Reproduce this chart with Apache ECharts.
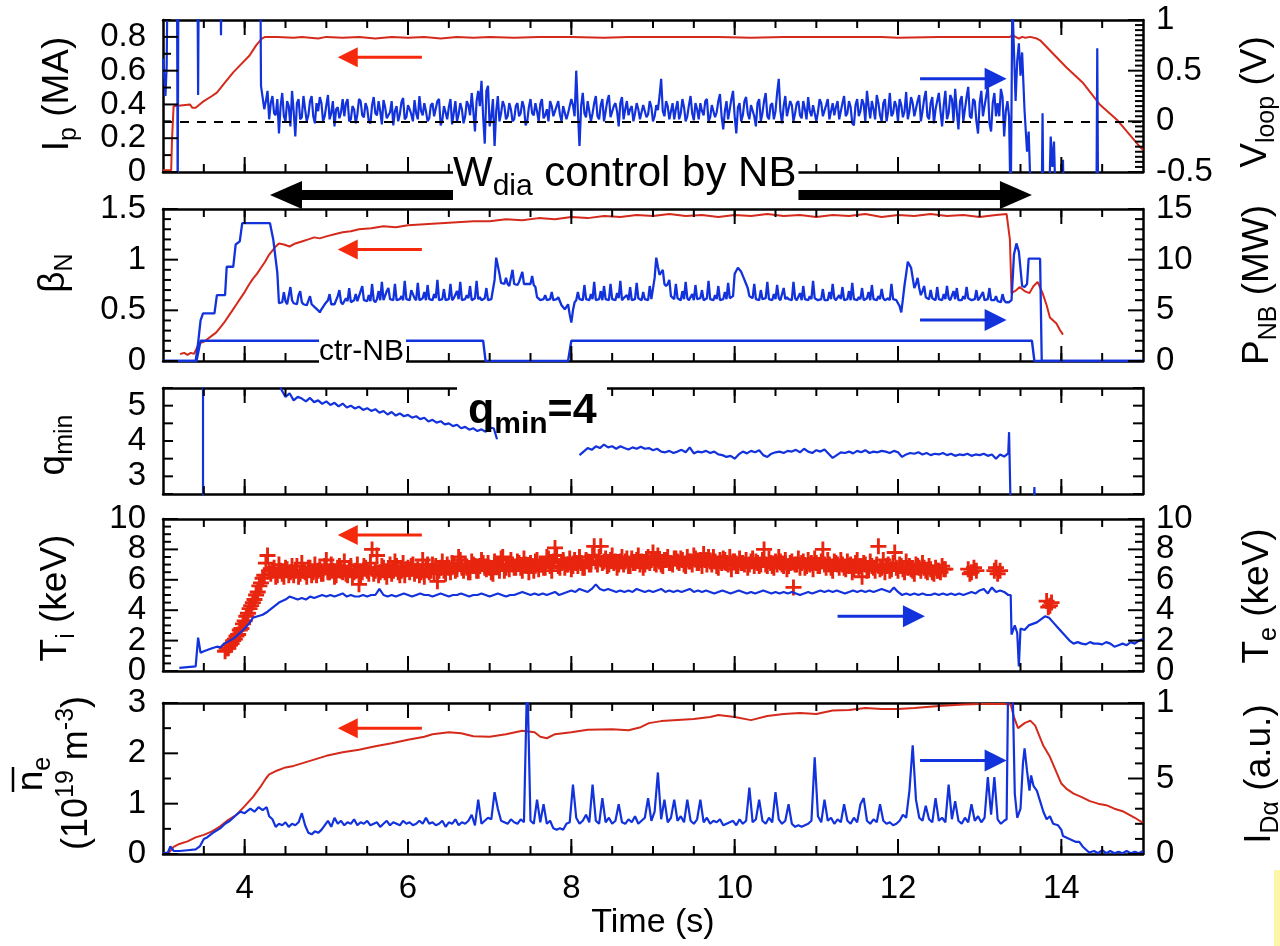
<!DOCTYPE html>
<html>
<head>
<meta charset="utf-8">
<script src="https://cdn.jsdelivr.net/npm/echarts@6/dist/echarts.min.js"></script>
<style>
  html, body { margin: 0; padding: 0; background: #ffffff; }
  #chart { width: 1280px; height: 946px; }
</style>
</head>
<body>
<div id="chart"></div>
<script>
// ---------------- time axis ----------------
const timeMin = 3, timeMax = 15;
const timeLabelTicks = [4, 6, 8, 10, 12, 14];
const timeHalfTicks = [3.5, 4, 4.5, 5, 5.5, 6, 6.5, 7, 7.5, 8, 8.5, 9, 9.5, 10, 10.5, 11, 11.5, 12, 12.5, 13, 13.5, 14, 14.5];

// ---------------- panel 1: plasma current (MA) and loop voltage (V) ----------------
const ipPoints = [[3.00,0.01],[3.10,0.01],[3.11,0.19],[3.13,0.39],[3.15,0.40],[3.33,0.40],[3.36,0.38],[3.40,0.38],[3.50,0.42],[3.60,0.45],[3.66,0.47],[3.76,0.53],[3.86,0.59],[3.96,0.64],[4.06,0.69],[4.14,0.75],[4.21,0.79],[4.25,0.80],
  [4.40,0.80],[4.60,0.795],[4.70,0.80],[4.90,0.79],[5.00,0.80],[5.20,0.795],[5.40,0.80],[5.60,0.79],[5.80,0.80],[6.00,0.795],[6.20,0.80],[6.40,0.79],[6.60,0.80],[6.80,0.795],[7.00,0.80],[7.30,0.795],[7.60,0.80],[8.00,0.80],[8.40,0.795],[8.70,0.80],[9.20,0.80],[9.80,0.80],[10.20,0.795],[10.60,0.80],[11.20,0.80],[11.80,0.80],[12.00,0.795],[12.50,0.80],[13.00,0.80],[13.37,0.80],
  [13.40,0.81],[13.44,0.80],[13.48,0.79],[13.52,0.80],[13.56,0.795],[13.62,0.80],[13.70,0.79],[13.74,0.78],[13.90,0.70],[14.06,0.62],[14.26,0.53],[14.47,0.40],[14.68,0.31],[14.96,0.15],[15.00,0.13]];

const vloopEarly = [[3.00,0.62],[3.015,0.45],[3.03,0.25],[3.045,0.55],[3.06,1.8],[3.17,1.8],[3.18,-0.8],[3.19,1.8],[3.42,1.8],[3.43,0.26],[3.44,1.8],[3.70,1.8],[3.71,0.85],[3.72,1.8],[4.19,1.8],[4.20,0.35]];
const vloopStart = 4.22, vloopStep = 0.04;
const vloopValues = [
  0.34,0.20,0.02,0.25,0.06,-0.12,0.28,0.00,0.15,0.30,-0.15,0.22,0.04,0.12,0.06,0.25,-0.02,0.10,0.18,0.05,0.26,0.08,-0.05,0.14,0.09,
  0.05,0.22,0.02,0.12,0.07,0.20,0.04,0.13,-0.02,0.24,0.06,0.10,0.21,0.03,0.09,-0.04,0.15,0.07,0.23,0.04,0.12,0.00,0.08,0.25,0.06,
  0.10,0.03,0.18,0.06,0.22,0.01,0.09,0.14,-0.03,0.20,0.07,0.12,0.05,0.16,0.28,-0.10,0.30,0.40,-0.22,0.35,0.05,-0.25,0.25,0.08,0.15,
  0.05,0.12,0.02,0.18,0.08,0.14,0.00,0.22,0.06,0.10,0.17,0.03,0.12,0.20,0.05,0.11,0.07,0.15,0.02,0.09,0.16,0.50,-0.25,0.28,0.04,
  0.20,0.08,0.25,0.02,0.22,0.10,0.26,0.05,0.18,-0.05,0.24,0.12,0.06,0.15,0.08,0.12,0.03,0.10,0.07,0.14,0.05,0.11,0.42,0.05,0.15,
  0.10,0.02,0.20,0.08,0.14,0.05,0.25,0.01,0.12,0.18,0.06,0.22,0.04,0.15,0.09,0.27,-0.08,0.20,0.12,0.30,-0.12,0.18,0.06,0.24,0.02,
  0.15,-0.05,0.22,0.08,0.28,0.02,0.18,0.10,0.42,-0.02,0.25,0.06,0.16,0.08,0.20,0.03,0.12,0.24,0.05,0.15,0.09,0.18,0.04,0.22,0.10,
  0.06,0.20,0.02,0.25,0.08,0.14,-0.04,0.22,0.10,0.17,0.30,0.03,0.12,0.26,0.06,0.18,0.00,0.28,0.08,0.15,0.22,0.04,0.29,0.10,0.18,
  0.05,0.26,0.10,0.30,0.02,0.24,0.12,0.28,-0.05,0.30,0.08,0.22,0.32,-0.08,0.25,0.12,0.34,0.03,0.20,-0.12,0.30,0.15,0.35,-0.10,0.28,
  0.18,0.32,-0.15,0.20];
// readings half-way between the samples above (t = 4.24 s onwards)
const vloopMidValues = [
  0.12,0.30,0.18,0.08,0.22,0.15,0.05,0.20,-0.05,0.10,0.18,0.02,0.25,0.00,0.20,0.05,0.18,0.24,0.00,0.16,0.02,0.20,0.12,0.03,0.22,
  0.18,0.00,0.15,-0.02,0.22,0.06,0.18,0.00,0.16,0.08,0.20,-0.03,0.14,0.06,0.20,0.10,0.00,0.19,0.02,0.16,0.07,0.21,0.02,0.10,0.18,
  0.00,0.16,0.05,0.20,-0.04,0.15,0.02,0.22,0.08,0.00,0.18,-0.02,0.20,0.06,0.10,0.20,0.15,0.05,0.30,-0.05,0.22,0.10,0.00,0.20,0.02,
  0.18,0.00,0.15,0.05,0.20,-0.04,0.14,0.08,0.18,0.00,0.22,0.06,0.00,0.15,0.10,0.20,0.00,0.16,0.08,0.22,0.05,0.10,0.15,0.08,0.20,
  0.00,0.18,0.05,0.16,0.00,0.20,0.04,0.15,0.10,0.18,0.02,0.20,0.12,0.00,0.18,0.02,0.16,0.04,0.20,0.00,0.16,0.25,0.10,0.20,0.02,
  0.18,0.12,0.02,0.22,0.00,0.16,0.08,0.18,0.02,0.10,0.20,0.00,0.16,0.04,0.20,0.05,0.10,0.02,0.22,0.05,0.14,0.00,0.20,0.08,0.16,
  0.05,0.18,0.00,0.20,0.05,0.16,0.02,0.28,0.10,0.15,0.05,0.20,0.00,0.18,0.06,0.20,0.02,0.10,0.16,0.00,0.22,0.05,0.16,0.02,0.18,
  0.14,0.02,0.18,0.05,0.20,-0.02,0.16,0.05,0.22,0.00,0.15,0.20,0.02,0.18,0.00,0.22,0.10,0.05,0.20,0.00,0.16,0.10,0.02,0.24,0.05,
  0.20,0.00,0.22,0.05,0.18,-0.02,0.20,0.10,0.16,0.02,0.26,0.00,0.10,0.20,0.00,0.24,0.05,0.22,0.00,0.18,0.05,0.25,-0.02,0.18,0.05,
  0.05,0.24,0.10];
const vloopLate = [[13.36,0.05],[13.38,-0.9],[13.39,-0.9],[13.40,1.2],[13.42,1.2],[13.44,0.2],[13.46,0.6],[13.48,0.77],[13.50,0.45],[13.52,0.68],[13.55,0.1],[13.58,-0.3],[13.60,-0.1],[13.62,-0.6],[13.70,-0.6],[13.72,-0.8],[13.76,-0.8],[13.77,0.08],[13.78,-0.8],[13.85,-0.8],[13.87,-0.15],[13.89,-0.45],[13.91,-0.2],[13.93,-0.8],[14.01,-0.8],[14.02,-0.38],[14.03,-0.8],[14.43,-0.8],[14.44,0.72],[14.45,-0.8],[15.00,-0.8]];

// ---------------- panel 2: normalised beta and NB power (MW) ----------------
const betaNPoints = [[3.21,0.07],[3.26,0.08],[3.30,0.06],[3.34,0.08],[3.38,0.07],[3.42,0.14],[3.46,0.18],[3.50,0.19],[3.55,0.22],[3.60,0.25],[3.65,0.28],[3.70,0.33],[3.75,0.38],[3.80,0.44],[3.85,0.50],[3.90,0.56],[3.95,0.62],[4.00,0.68],[4.05,0.75],[4.10,0.81],[4.15,0.86],[4.20,0.92],[4.25,0.98],[4.30,1.05],[4.35,1.10],[4.38,1.13],[4.42,1.16],[4.48,1.15],[4.55,1.13],[4.62,1.16],[4.70,1.18],[4.78,1.20],[4.85,1.22],[4.92,1.21],[5.00,1.23],[5.10,1.25],[5.20,1.27],[5.30,1.28],[5.40,1.30],[5.55,1.31],[5.70,1.33],[5.85,1.32],[6.00,1.34],[6.20,1.35],[6.40,1.36],[6.60,1.37],[6.80,1.38],[7.00,1.38],[7.20,1.40],[7.40,1.39],[7.60,1.41],[7.80,1.40],[8.00,1.42],[8.20,1.41],[8.40,1.43],[8.60,1.42],[8.80,1.44],[9.00,1.43],[9.20,1.45],[9.40,1.43],[9.60,1.44],[9.80,1.42],[10.00,1.44],[10.20,1.43],[10.40,1.45],[10.60,1.43],[10.80,1.44],[11.00,1.42],[11.20,1.44],[11.40,1.43],[11.60,1.45],[11.80,1.42],[12.00,1.44],[12.20,1.43],[12.40,1.45],[12.60,1.43],[12.80,1.44],[13.00,1.42],[13.20,1.44],[13.33,1.45],[13.37,1.20],[13.39,0.67],[13.45,0.70],[13.49,0.73],[13.55,0.69],[13.61,0.67],[13.66,0.74],[13.71,0.78],[13.77,0.67],[13.82,0.55],[13.86,0.43],[13.90,0.40],[13.94,0.37],[13.98,0.31],[14.02,0.26]];

const pnbEarly = [[3.00,0],[3.40,0],[3.43,1.8],[3.46,4.0],[3.49,4.7],[3.63,4.7],[3.66,6.5],[3.76,6.5],[3.78,9.3],[3.86,9.3],[3.89,11.5],[3.94,11.8],[3.97,13.6],[4.31,13.6],[4.35,12.0],[4.40,8.7],[4.42,5.7]];
const pnbStart = 4.44, pnbStep = 0.04;
const pnbValues = [
  5.7,6.8,5.6,7.3,5.7,5.6,6.9,5.6,5.5,6.4,5.5,5.2,4.8,5.0,5.5,6.6,5.5,5.7,7.0,5.6,6.2,7.2,5.7,6.6,5.8,
  7.4,5.9,6.5,7.6,5.8,6.9,7.8,6.0,7.2,6.1,7.6,5.9,6.4,7.9,6.0,7.0,6.2,7.7,5.9,6.8,7.5,6.0,6.6,8.0,6.1,
  7.1,6.0,7.6,6.2,6.9,7.8,6.0,6.5,7.4,6.1,7.9,6.3,6.1,7.2,6.0,6.2,10.2,8.6,7.6,8.2,7.4,9.0,7.6,7.8,8.8,
  7.5,7.7,8.4,7.3,6.2,6.0,6.5,6.1,6.8,6.0,6.3,5.5,5.1,5.6,3.8,5.8,6.8,6.0,7.5,6.1,6.6,7.8,6.0,6.9,7.4,
  6.1,7.6,6.0,6.7,7.9,6.2,6.5,7.3,6.0,7.7,6.2,6.8,6.0,7.4,6.1,10.2,8.5,9.0,7.4,8.0,6.3,7.6,6.1,6.9,7.8,
  6.0,6.6,7.5,6.1,7.0,6.0,7.9,6.2,6.5,7.4,6.0,6.8,7.7,6.2,8.6,9.2,8.8,8.0,7.2,6.3,7.6,6.1,7.0,6.0,7.8,
  6.2,6.6,7.5,6.0,7.2,6.3,6.1,7.8,6.0,6.7,7.4,6.1,6.4,7.9,6.2,6.0,7.1,6.1,6.8,7.6,6.0,6.5,7.3,6.1,6.9,
  7.7,6.0,6.3,7.2,6.1,6.8,7.5,6.0,6.4,7.1,6.0,6.2,7.6,6.1,6.0,4.8,7.5,9.8,9.2,7.2,8.2,6.5,7.4,6.2,7.0,
  6.1,7.3,6.0,6.6,7.4,6.0,6.9,7.2,6.0,6.4,7.3,6.1,6.0,7.0,6.2,6.8,6.0,7.2,6.1,6.4,5.9,6.6,5.8];
// readings half-way between the samples above (t = 4.46 s onwards)
const pnbMidValues = [
  5.8,5.9,5.6,6.0,5.7,6.5,5.8,5.7,5.6,5.6,5.3,5.0,5.1,5.6,6.0,5.6,5.6,6.4,5.8,5.7,5.9,5.8,6.0,5.9,6.9,
  6.0,5.9,5.9,6.0,6.1,6.0,6.0,6.9,6.1,6.0,6.0,6.1,6.0,6.1,6.0,6.6,6.0,6.0,6.2,6.0,6.1,6.0,6.2,6.0,6.1,
  6.0,6.1,6.0,6.2,6.1,6.0,6.1,6.2,6.0,6.2,6.1,6.0,6.2,6.0,6.1,8.0,9.4,7.7,7.6,7.6,7.4,7.6,7.5,7.7,7.6,
  7.6,7.6,7.5,6.3,6.0,6.1,6.0,6.1,6.0,6.1,5.9,5.3,5.2,4.6,5.0,6.0,6.1,6.0,6.1,6.0,6.1,6.0,6.1,6.0,6.1,
  6.0,6.1,6.0,6.2,6.0,6.1,6.0,6.0,6.1,6.2,6.0,6.1,6.0,6.1,8.2,9.3,8.6,7.6,7.6,6.4,6.1,6.2,6.0,6.1,6.2,
  6.1,6.0,6.1,6.2,6.0,6.2,6.1,6.0,6.1,6.0,6.1,6.1,6.2,6.4,8.9,9.0,8.4,7.6,6.4,6.2,6.1,6.0,6.1,6.2,6.1,
  6.0,6.1,6.2,6.0,6.1,6.1,6.0,6.2,6.1,6.0,6.1,6.0,6.1,6.2,6.0,6.1,6.0,6.0,6.1,6.2,6.0,6.1,6.0,6.1,6.0,
  6.1,6.0,6.1,6.0,6.2,6.0,6.1,6.0,6.1,6.2,6.0,6.0,6.1,6.0,5.4,6.1,8.6,9.5,8.2,7.6,7.2,6.9,6.3,6.1,6.2,
  6.0,6.1,6.0,6.1,6.2,6.0,6.1,6.0,6.0,6.1,6.2,6.0,6.1,6.0,6.1,6.0,6.1,6.0,6.0,5.9,5.8,6.0];
const pnbLate = [[13.36,5.8],[13.39,6.0],[13.42,10.5],[13.45,11.6],[13.48,10.8],[13.52,7.4],[13.55,7.3],[13.58,7.6],[13.60,10.1],[13.74,10.1],[13.76,0],[15.00,0]];

const ctrNbPoints = [[3.00,0],[3.41,0],[3.46,2.0],[6.92,2.0],[6.95,0],[7.96,0],[8.00,2.0],[13.64,2.0],[13.67,0],[15.00,0]];

// ---------------- panel 3: minimum safety factor ----------------
const qminSpike = [[3.49,2.0],[3.49,6.0]];
const qminHead = [[4.43,5.6]];
const qminFirstStart = 4.45, qminFirstStep = 0.05;
const qminFirstValues = [5.45,5.25,5.35,5.15,5.25,5.20,5.12,5.22,5.10,5.15,5.05,5.12,5.02,5.08,4.98,5.06,4.95,5.00,4.92,4.97,4.88,4.93,4.85,4.90,4.80,4.85,4.75,4.82,4.72,4.78,4.70,4.74,4.66,4.70,4.62,4.66,4.55,4.60,4.52,4.56,4.47,4.50,4.42,4.46,4.36,4.40,4.32,4.36,4.28,4.33,4.26,4.38,4.36];
const qminFirstEnd = [[7.09,4.05]];
const qminSecondStart = 8.10, qminSecondStep = 0.05;
const qminSecondValues = [3.60,3.70,3.80,3.75,3.85,3.80,3.90,3.82,3.85,3.78,3.85,3.80,3.76,3.82,3.78,3.84,3.78,3.80,3.74,3.78,3.70,3.68,3.72,3.66,3.70,3.75,3.68,3.82,3.65,3.70,3.68,3.72,3.66,3.70,3.62,3.60,3.55,3.58,3.50,3.62,3.70,3.65,3.72,3.68,3.74,3.60,3.55,3.64,3.68,3.70,3.66,3.72,3.70,3.75,3.68,3.78,3.70,3.66,3.74,3.70,3.76,3.64,3.52,3.60,3.68,3.66,3.70,3.65,3.72,3.68,3.74,3.66,3.70,3.68,3.72,3.70,3.66,3.72,3.68,3.55,3.62,3.66,3.64,3.68,3.62,3.66,3.60,3.64,3.62,3.66,3.60,3.64,3.58,3.62,3.60,3.64,3.58,3.62,3.60,3.64,3.58,3.62,3.50,3.62,3.56,3.65];
const qminTail = [[13.36,4.25],[13.38,2.0]];
const qminLateSpike = [[13.66,2.0],[13.67,2.7],[13.68,2.0]];

// ---------------- panel 4: ion (+) and electron temperatures (keV) ----------------
// two interleaved sets of ion-temperature points
const tiStartA = 3.76, tiStartB = 3.78, tiStep = 0.04;
const tiValuesA = [
  1.3,1.5,1.8,2.1,2.4,2.8,3.3,3.8,4.3,4.7,5.2,5.8,6.3,7.6,
  6.4,6.8,6.3,6.6,6.2,6.7,6.5,6.3,6.9,6.4,6.6,6.2,6.8,6.5,6.3,6.7,6.4,7.3,6.5,6.6,6.3,6.9,6.5,6.4,6.7,
  6.2,6.6,5.7,6.5,6.8,6.4,8.0,6.6,6.3,6.9,6.5,6.7,6.4,7.2,6.5,6.6,6.3,6.8,6.9,6.4,6.7,6.5,6.2,7.0,6.6,
  6.4,5.9,6.8,6.6,7.0,6.5,6.9,6.7,7.3,6.6,6.8,6.5,7.0,6.6,6.9,7.1,6.7,6.8,6.4,7.0,6.6,7.5,6.8,6.7,7.0,
  6.8,7.1,6.6,7.0,6.5,6.9,7.2,6.7,7.0,6.8,7.4,6.6,8.1,6.9,7.1,6.8,7.0,6.7,7.3,6.9,7.1,6.8,7.2,7.0,8.2,
  7.0,8.2,7.2,6.9,7.3,7.1,6.8,7.2,7.0,7.4,6.9,7.1,7.3,7.0,6.8,7.2,7.1,7.8,7.0,7.2,6.9,7.3,7.1,7.0,7.4,
  7.1,7.3,6.9,7.2,7.0,7.4,7.1,6.9,7.3,7.5,7.0,7.2,6.8,7.1,7.3,7.0,6.7,7.2,6.9,7.1,7.0,6.8,7.2,6.9,7.1,
  7.0,8.0,6.9,7.1,6.8,7.0,7.2,6.9,6.7,7.1,5.5,7.0,6.8,7.2,6.9,7.0,6.7,7.1,6.9,8.0,6.8,7.0,6.6,7.1,6.8,
  7.0,6.7,6.9,6.5,7.1,6.8,6.2,7.0,6.7,6.9,6.6,8.2,6.8,6.5,7.0,6.7,7.8,6.6,6.9,6.5,6.8,6.7,6.4,6.9,6.6,
  6.8,6.5,6.7,6.4,6.6,6.5,6.7];
const tiValuesB = [
  1.5,1.7,2.0,2.3,2.7,3.1,3.6,4.1,4.5,5.0,5.6,6.1,7.1,6.6,
  6.6,6.2,7.0,6.4,6.8,6.3,6.9,6.6,6.2,7.1,6.5,6.8,6.3,7.0,6.6,6.4,6.9,6.5,7.0,6.2,6.8,6.6,7.2,6.3,6.9,
  6.5,7.0,6.3,6.9,6.6,7.1,6.4,7.6,6.5,6.8,6.2,7.0,6.6,6.9,6.3,7.1,6.7,6.5,7.0,6.6,6.3,7.3,6.8,6.5,7.0,
  6.9,6.6,7.2,6.4,6.8,7.1,6.6,7.5,6.8,7.0,6.5,7.2,6.9,6.6,7.3,6.8,7.1,6.5,7.2,6.9,7.4,6.6,7.0,7.3,6.8,
  7.2,6.8,7.4,6.9,7.1,6.6,7.3,7.0,6.8,7.5,6.9,7.2,7.6,6.8,7.3,7.0,7.4,6.9,7.1,7.5,6.8,7.3,7.0,7.6,7.2,
  7.5,7.1,7.4,7.0,7.6,7.2,7.0,7.5,7.2,6.9,7.4,7.1,7.6,7.2,7.0,7.5,7.3,7.1,7.6,7.0,7.3,7.5,7.1,7.4,7.2,
  7.4,7.0,7.5,7.2,7.6,7.1,7.3,7.7,7.0,7.2,7.5,6.9,7.3,7.4,7.1,7.5,7.2,6.9,7.4,7.1,7.3,7.0,7.4,7.2,6.9,
  7.3,7.0,7.4,6.9,7.2,7.5,7.0,7.3,6.9,7.2,7.0,7.4,7.1,6.8,7.3,7.1,7.4,6.9,7.2,7.0,7.3,6.8,7.2,7.0,7.3,
  6.8,7.2,7.0,6.7,7.3,6.9,7.1,6.6,7.2,6.8,7.0,6.7,7.3,6.9,6.6,7.1,6.8,7.0,6.7,7.2,6.9,6.6,7.0,6.8,7.1,
  6.6,6.9,6.5,6.8,6.6,6.9,6.7];
const tiLate = [[12.86,6.7],[12.88,6.4],[12.90,6.5],[12.93,6.8],[12.96,6.6],[13.18,6.6],[13.20,6.8],[13.22,6.4],[13.25,6.6],[13.82,4.6],[13.84,4.2],[13.86,4.3],[13.88,4.5]];

const teEarly = [[3.20,0.2],[3.30,0.25],[3.40,0.3],[3.43,2.2],[3.46,1.2],[3.50,1.3],[3.55,1.4],[3.60,1.5],[3.66,1.6],[3.70,1.55],[3.75,1.8],[3.82,2.0],[3.88,2.2],[3.94,2.5],[4.00,2.8],[4.05,3.1],[4.10,3.5],[4.16,3.6],[4.22,3.7],[4.28,3.9],[4.35,4.2],[4.42,4.5],[4.50,4.7],[4.55,4.9]];
const teStart = 4.60, teStep = 0.05;
const teValues = [
  4.8,4.7,4.8,4.7,4.9,4.8,4.9,5.0,4.9,5.0,4.9,5.0,5.1,4.9,5.0,4.9,4.9,5.0,4.9,5.0,
  5.0,5.4,5.0,4.9,5.0,4.9,5.0,5.1,5.0,4.9,5.0,5.1,5.0,5.0,4.9,5.0,5.1,5.0,4.9,5.0,
  5.0,5.1,5.0,4.9,5.0,5.0,5.1,5.0,4.9,5.0,5.1,5.0,4.9,5.0,5.0,5.1,5.2,5.1,5.0,5.1,
  5.0,5.1,5.0,5.1,5.2,5.0,5.1,5.2,5.3,5.2,5.4,5.3,5.2,5.4,5.7,5.4,5.3,5.4,5.3,5.2,
  5.3,5.2,5.3,5.2,5.4,5.3,5.2,5.3,5.2,5.3,5.4,5.2,5.3,5.2,5.3,5.2,5.3,5.4,5.2,5.3,
  5.2,5.3,5.2,5.1,5.2,5.3,5.2,5.1,5.2,5.3,5.2,5.1,5.2,5.1,5.2,5.3,5.2,5.1,5.2,5.1,
  5.2,5.1,5.2,5.1,5.0,5.1,5.2,5.1,5.2,5.3,5.2,5.3,5.2,5.3,5.2,5.1,5.2,5.3,5.2,5.3,
  5.2,5.3,5.2,5.3,5.4,5.3,5.2,5.5,5.2,5.0,5.1,5.0,5.1,5.0,5.1,5.0,5.0,5.1,5.0,5.1,
  5.0,5.1,5.0,5.1,5.0,5.1,5.2,5.1,5.3,5.4,5.1,5.5,5.2,5.3,5.2,5.0];
const teLate = [[13.38,5.0],[13.39,2.4],[13.43,3.0],[13.46,2.5],[13.48,0.3],[13.50,2.8],[13.55,2.7],[13.60,3.0],[13.65,3.1],[13.70,3.2],[13.75,3.4],[13.80,3.6],[13.85,3.5],[13.90,3.2],[13.95,2.9],[14.00,2.6],[14.05,2.3],[14.10,2.0],[14.15,1.8],[14.20,1.9],[14.25,1.8],[14.30,1.75],[14.35,1.9],[14.40,1.8],[14.45,1.8],[14.50,1.75],[14.55,1.9],[14.60,1.8],[14.65,1.6],[14.70,1.7],[14.75,1.8],[14.80,1.7],[14.85,1.9],[14.90,1.8],[14.95,2.0],[15.00,2.1]];
const tempLabelsA = [0, 4, 8];
const tempLabelsB = [2, 6, 10];

// ---------------- panel 5: line-averaged density and D-alpha ----------------
const nePoints = [[3.06,0.0],[3.10,0.08],[3.13,0.14],[3.20,0.20],[3.30,0.25],[3.40,0.33],[3.50,0.38],[3.60,0.45],[3.70,0.55],[3.80,0.68],[3.90,0.78],[4.00,0.95],[4.10,1.13],[4.20,1.35],[4.26,1.50],[4.30,1.58],[4.40,1.66],[4.50,1.72],[4.60,1.75],[4.70,1.80],[4.80,1.85],[4.90,1.90],[5.00,1.95],[5.20,2.02],[5.40,2.07],[5.60,2.14],[5.80,2.20],[6.00,2.27],[6.20,2.33],[6.30,2.38],[6.50,2.42],[6.65,2.40],[6.80,2.34],[7.00,2.33],[7.20,2.38],[7.40,2.45],[7.55,2.42],[7.62,2.33],[7.70,2.30],[7.80,2.38],[8.00,2.42],[8.20,2.47],[8.50,2.48],[8.70,2.46],[8.85,2.52],[8.95,2.60],[9.10,2.64],[9.30,2.66],[9.50,2.68],[9.70,2.72],[9.80,2.76],[10.00,2.72],[10.20,2.66],[10.40,2.74],[10.60,2.78],[10.80,2.80],[11.00,2.78],[11.20,2.85],[11.40,2.86],[11.60,2.90],[11.80,2.88],[12.00,2.88],[12.20,2.90],[12.50,2.94],[12.80,2.97],[13.00,2.98],[13.30,2.98],[13.38,2.97],[13.42,2.72],[13.47,2.50],[13.55,2.60],[13.62,2.65],[13.68,2.55],[13.78,2.15],[13.86,1.93],[14.00,1.40],[14.06,1.30],[14.15,1.20],[14.25,1.13],[14.35,1.05],[14.45,1.00],[14.55,0.97],[14.65,0.90],[14.75,0.85],[14.90,0.72],[15.00,0.62]];

const idaEarly = [[3.00,0.05],[3.06,0.1],[3.09,0.5],[3.13,0.2],[3.20,0.2],[3.30,0.25],[3.40,0.3],[3.45,0.5],[3.50,1.0],[3.54,1.1],[3.61,1.4],[3.70,1.7],[3.76,2.0],[3.82,2.2],[3.90,2.6],[3.95,2.8],[4.00,2.7],[4.07,3.0],[4.12,2.8],[4.17,3.1],[4.22,2.9],[4.27,3.1]];
const idaStart = 4.30, idaStep = 0.04;
const idaValues = [
  2.5,2.3,1.8,2.0,1.9,2.1,1.8,2.0,1.9,2.1,2.7,1.9,1.4,1.3,1.5,1.4,1.6,1.9,2.2,1.8,2.4,2.0,2.2,1.9,2.1,
  2.0,2.3,1.9,2.1,2.0,2.2,1.9,2.0,2.1,1.8,2.0,2.2,1.9,2.1,2.0,1.9,2.2,2.0,2.1,1.9,2.0,2.2,2.0,2.4,2.0,
  2.1,1.9,2.0,2.2,1.8,2.1,2.0,2.3,1.9,2.1,2.0,2.2,2.6,1.9,3.6,2.0,2.2,2.4,2.3,4.1,3.0,2.2,2.1,2.0,2.3,
  2.1,2.0,2.3,2.1,12.0,2.2,2.0,3.6,2.1,3.3,2.0,2.2,1.7,1.6,1.7,1.6,2.0,2.1,4.6,2.4,2.0,2.2,2.6,2.1,4.6,
  2.2,2.0,3.7,2.1,2.4,2.0,2.2,3.3,2.1,2.0,2.3,2.1,2.5,2.0,2.2,2.4,3.7,2.2,2.8,5.4,2.3,3.6,2.1,2.4,3.6,
  2.2,2.5,2.1,3.6,2.2,2.0,2.3,3.6,2.1,2.4,2.0,2.2,2.1,2.3,1.9,2.0,2.1,2.2,1.9,2.3,2.0,2.2,4.4,2.1,2.3,
  3.6,2.2,2.0,2.4,2.1,4.1,2.3,2.0,2.2,3.3,2.0,1.8,1.9,1.8,1.9,2.0,2.2,6.4,2.5,2.1,3.6,2.2,2.4,2.0,2.3,
  2.1,3.3,2.2,2.0,2.4,2.1,3.3,3.7,2.2,2.0,2.3,2.1,3.3,2.2,2.0,2.1,1.9,2.0,2.2,2.6,2.4,4.2,7.2,3.6,2.4,
  2.2,3.2,2.3,2.1,3.7,2.2,2.4,2.1,4.6,2.3,3.5,2.2,2.0,2.4,2.1,3.3,2.2,2.5,2.1,2.4,5.1,2.6,5.1,2.3,2.0,2.2];
const idaLate = [[13.33,2.3],[13.35,12],[13.40,12],[13.43,4.0],[13.46,2.4],[13.50,3.0],[13.53,6.0],[13.55,7.0],[13.58,5.5],[13.61,4.2],[13.63,5.2],[13.66,4.5],[13.70,4.2],[13.74,3.5],[13.78,2.8],[13.82,2.3],[13.86,2.5],[13.90,2.0],[13.96,1.9],[14.00,1.6],[14.02,1.2],[14.06,1.1],[14.10,1.0],[14.14,0.9],[14.18,0.8],[14.22,0.8],[14.26,0.5],[14.30,0.3],[14.34,0.1],[14.40,0.2],[14.45,0.05],[14.50,0.25],[14.55,0.05],[14.60,0.2],[14.65,0.05],[14.70,0.15],[14.75,0.05],[14.80,0.2],[14.85,0.05],[14.90,0.15],[14.95,0.05],[15.00,0.2]];
const idaTickLabels = { 0: '0', 5: '5', 10: '1' };

// ---------------- helpers ----------------
function sampled(t0, dt, values) {
  return values.map((v, i) => [Math.round((t0 + dt * i) * 1000) / 1000, v]);
}
const byTime = (a, b) => a[0] - b[0];
const GAP = (t) => [t, null];

const RED = '#d42a1c';
const BLUE = '#1232dc';
const TI_RED = '#e8250f';
const ARROW_RED = '#f52a0c';
const FONT = "'Liberation Sans', Arial, Helvetica, sans-serif";

const gridTops = [20, 209, 388, 519, 703];
const gridHeights = [152, 152, 106, 152, 151];
const gridLeft = 163, gridRight = 137, gridWidth = 980;

const frameLine = () => ({ color: '#000', width: 2.5 });
const labelStyle = () => ({ fontSize: 33, fontFamily: FONT, color: '#000' });

const grids = gridTops.map((top, i) => ({ left: gridLeft, right: gridRight, top: top, height: gridHeights[i] }));

// x axes: per panel one at the bottom (labels on the last panel) and one at the top
const X_PER_GRID = 2;
const xAxes = [];
gridTops.forEach((_, g) => {
  const labelled = g === 4;
  xAxes.push({
    gridIndex: g, type: 'value', position: 'bottom', min: timeMin, max: timeMax,
    axisLine: { show: true, onZero: false, lineStyle: frameLine() },
    axisTick: { show: false },
    axisLabel: labelled ? Object.assign({ show: true, customValues: timeLabelTicks, margin: 18 }, labelStyle()) : { show: false },
    splitLine: { show: false },
    name: labelled ? 'Time (s)' : '', nameLocation: 'middle', nameGap: 52,
    nameTextStyle: { fontSize: 34, fontFamily: FONT, color: '#000' }
  });
  xAxes.push({
    gridIndex: g, type: 'value', position: 'top', min: timeMin, max: timeMax,
    axisLine: { show: true, onZero: false, lineStyle: frameLine() },
    axisTick: { show: false }, axisLabel: { show: false }, splitLine: { show: false }
  });
});

// value-axis scales: [left, right] per panel; minor = number of subdivisions per major step
const panelScales = [
  [{ min: 0, max: 0.9, interval: 0.2, minor: 2, showMax: false }, { min: -0.5, max: 1, interval: 0.5, minor: 10 }],
  [{ min: 0, max: 1.5, interval: 0.5, minor: 5 }, { min: 0, max: 15, interval: 5, minor: 5 }],
  [{ min: 2.5, max: 5.5, interval: 0.5, minor: 1, tickLength: 10, integerLabels: true }, { min: 2.5, max: 5.5, interval: 0.5, minor: 1, tickLength: 10, labels: false }],
  [{ min: 0, max: 10, interval: 2, minor: 4, labelValues: tempLabelsA }, { min: 0, max: 10, interval: 2, minor: 4, labelValues: tempLabelsA }],
  [{ min: 0, max: 3, interval: 1, minor: 2 }, { min: 0, max: 10, interval: 5, minor: 5, labelMap: idaTickLabels }]
];
const integerOnly = (v) => (Math.abs(v - Math.round(v)) < 1e-6 ? String(Math.round(v)) : '');

function valueAxis(g, pos, c, extra) {
  const label = Object.assign({
    show: c.labels !== false, margin: pos === 'left' ? 17 : 13,
    showMaxLabel: c.showMax === false ? false : true, showMinLabel: true, hideOverlap: false
  }, labelStyle());
  if (c.integerLabels) label.formatter = integerOnly;
  if (c.labelMap) label.formatter = (v) => c.labelMap[Math.round(v)];
  if (c.labelValues) label.customValues = c.labelValues;
  return Object.assign({
    gridIndex: g, type: 'value', position: pos, min: c.min, max: c.max, interval: c.interval,
    axisLine: { show: true, onZero: false, lineStyle: frameLine() },
    axisTick: { show: false }, minorTick: { show: false },
    splitLine: { show: false }, minorSplitLine: { show: false },
    axisLabel: label
  }, extra || {});
}

const Y_PER_GRID = 2;
const yAxes = [];
panelScales.forEach(([l, r], g) => { yAxes.push(valueAxis(g, 'left', l)); yAxes.push(valueAxis(g, 'right', r)); });
// second label set for the temperature panel (labels every 4 keV on each axis, offset by 2)
yAxes.push(valueAxis(3, 'left', Object.assign({}, panelScales[3][0], { labelValues: tempLabelsB }), { axisLine: { show: false, onZero: false } }));
yAxes.push(valueAxis(3, 'right', Object.assign({}, panelScales[3][1], { labelValues: tempLabelsB }), { axisLine: { show: false, onZero: false } }));

function lineSeries(name, g, side, data, color, width) {
  return {
    name: name, type: 'line', xAxisIndex: X_PER_GRID * g, yAxisIndex: Y_PER_GRID * g + side, data: data,
    showSymbol: false, symbol: 'none', clip: true, connectNulls: false,
    lineStyle: { color: color, width: width }, itemStyle: { color: color },
    animation: false, silent: true
  };
}

const vloopData = vloopEarly.concat(
  sampled(vloopStart, vloopStep, vloopValues).concat(sampled(vloopStart + vloopStep / 2, vloopStep, vloopMidValues)).sort(byTime),
  vloopLate);
const pnbData = pnbEarly.concat(
  sampled(pnbStart, pnbStep, pnbValues).concat(sampled(pnbStart + pnbStep / 2, pnbStep, pnbMidValues)).sort(byTime),
  pnbLate);
const qminData = qminSpike.concat([GAP(3.6)], qminHead, sampled(qminFirstStart, qminFirstStep, qminFirstValues), qminFirstEnd,
  [GAP(7.5)], sampled(qminSecondStart, qminSecondStep, qminSecondValues), qminTail, [GAP(13.5)], qminLateSpike);
const tiData = sampled(tiStartA, tiStep, tiValuesA).concat(sampled(tiStartB, tiStep, tiValuesB), tiLate);
const teData = teEarly.concat(sampled(teStart, teStep, teValues), teLate);
const idaData = idaEarly.concat(sampled(idaStart, idaStep, idaValues), idaLate);

const plusSymbol = 'path://M4.1,0H5.9V4.1H10V5.9H5.9V10H4.1V5.9H0V4.1H4.1Z';

const series = [
  lineSeries('Ip', 0, 0, ipPoints, RED, 2),
  Object.assign(lineSeries('Vloop', 0, 1, vloopData, BLUE, 2.2), {
    markLine: { silent: true, symbol: 'none', label: { show: false }, animation: false,
      lineStyle: { color: '#000', width: 2, type: [9, 8] }, data: [{ yAxis: 0 }] }
  }),
  lineSeries('betaN', 1, 0, betaNPoints, RED, 2),
  lineSeries('PNB', 1, 1, pnbData, BLUE, 2.3),
  lineSeries('ctr-NB', 1, 1, ctrNbPoints, BLUE, 2.4),
  lineSeries('qmin', 2, 0, qminData, BLUE, 2.2),
  lineSeries('Te', 3, 1, teData, BLUE, 2.2),
  {
    name: 'Ti', type: 'scatter', xAxisIndex: X_PER_GRID * 3, yAxisIndex: Y_PER_GRID * 3, data: tiData,
    symbol: plusSymbol, symbolSize: 16,
    itemStyle: { color: TI_RED, opacity: 1 }, animation: false, silent: true, clip: true
  },
  lineSeries('ne', 4, 0, nePoints, RED, 2),
  lineSeries('IDalpha', 4, 1, idaData, BLUE, 2.2)
];

const chart = echarts.init(document.getElementById('chart'), null, { renderer: 'canvas' });
chart.setOption({
  animation: false,
  backgroundColor: '#ffffff',
  grid: grids,
  xAxis: xAxes,
  yAxis: yAxes,
  series: series
});

const graphics = [];

// ---------------- inward tick marks on all four edges of every panel ----------------
function stepsBetween(min, max, step) {
  const out = [];
  for (let k = 0; min + k * step <= max + 1e-9; k++) out.push(Math.round((min + k * step) * 1e6) / 1e6);
  return out;
}
function tickLine(x1, y1, x2, y2) {
  return { type: 'line', z: 40, silent: true, shape: { x1, y1, x2, y2 }, style: { stroke: '#000', lineWidth: 2 } };
}
gridTops.forEach((top, g) => {
  const bottom = top + gridHeights[g];
  const left = gridLeft, right = gridLeft + gridWidth;
  [[timeHalfTicks, 8], [timeLabelTicks, 15]].forEach(([vals, len]) => vals.forEach(v => {
    const px = chart.convertToPixel({ xAxisIndex: X_PER_GRID * g }, v);
    graphics.push(tickLine(px, bottom, px, bottom - len));
    graphics.push(tickLine(px, top, px, top + len));
  }));
  panelScales[g].forEach((c, side) => {
    const axisIndex = Y_PER_GRID * g + side;
    const edge = side === 0 ? left : right;
    const dir = side === 0 ? 1 : -1;
    const majors = stepsBetween(c.min, c.max, c.interval);
    const minors = stepsBetween(c.min, c.max, c.interval / c.minor).filter(v => !majors.some(m => Math.abs(m - v) < 1e-6));
    [[majors, c.tickLength || 15], [minors, 8]].forEach(([vals, len]) => vals.forEach(v => {
      const py = chart.convertToPixel({ yAxisIndex: axisIndex }, v);
      graphics.push(tickLine(edge, py, edge + dir * len, py));
    }));
  });
});

// ---------------- annotations ----------------
// arrows pointing to the axis each trace belongs to: [seriesIndex, tail, tip, colour]
const arrowNotes = [
  [0, [6.17, 0.68], [5.14, 0.68], ARROW_RED],
  [1, [12.27, 0.42], [13.33, 0.42], BLUE],
  [2, [6.17, 1.10], [5.14, 1.10], ARROW_RED],
  [3, [12.27, 4.05], [13.33, 4.05], BLUE],
  [7, [6.17, 8.95], [5.14, 8.95], ARROW_RED],
  [6, [11.26, 3.6], [12.33, 3.6], BLUE],
  [8, [6.17, 2.5], [5.14, 2.5], ARROW_RED],
  [9, [12.27, 6.2], [13.33, 6.2], BLUE]
];
// span of stored-energy feedback control (s)
const wdiaControlSpan = [4.31, 13.64];

function arrowShapes(p0, p1, color, width, headLen, headHalf) {
  const dir = Math.sign(p1[0] - p0[0]);
  const bx = p1[0] - dir * headLen;
  return [
    { type: 'line', z: 50, shape: { x1: p0[0], y1: p0[1], x2: bx + dir * 2, y2: p1[1] }, style: { stroke: color, lineWidth: width } },
    { type: 'polygon', z: 50, shape: { points: [[p1[0], p1[1]], [bx, p1[1] - headHalf], [bx, p1[1] + headHalf]] }, style: { fill: color } }
  ];
}
arrowNotes.forEach(([si, from, to, color]) => {
  const p0 = chart.convertToPixel({ seriesIndex: si }, from);
  const p1 = chart.convertToPixel({ seriesIndex: si }, to);
  const head = color === BLUE ? [22, 11] : [20, 10];
  arrowShapes(p0, p1, color, 3, head[0], head[1]).forEach(s => graphics.push(s));
});

// thick double-headed arrow between the first two panels
const bigY = 195;
const bxL = chart.convertToPixel({ xAxisIndex: 0 }, wdiaControlSpan[0]);
const bxR = chart.convertToPixel({ xAxisIndex: 0 }, wdiaControlSpan[1]);
graphics.push({ type: 'line', z: 50, shape: { x1: bxL + 28, y1: bigY, x2: bxR - 28, y2: bigY }, style: { stroke: '#000', lineWidth: 10 } });
graphics.push({ type: 'polygon', z: 50, shape: { points: [[bxL, bigY], [bxL + 32, bigY - 14], [bxL + 32, bigY + 14]] }, style: { fill: '#000' } });
graphics.push({ type: 'polygon', z: 50, shape: { points: [[bxR, bigY], [bxR - 32, bigY - 14], [bxR - 32, bigY + 14]] }, style: { fill: '#000' } });

function txt(text, x, y, size, opts) {
  opts = opts || {};
  return {
    type: 'text', z: 60, x: x, y: y, rotation: opts.rotation || 0,
    style: {
      text: text, fontSize: size, fontFamily: FONT, fontWeight: opts.bold ? 'bold' : 'normal', fill: '#000',
      align: opts.align || 'center', verticalAlign: 'middle',
      backgroundColor: opts.bg || null, padding: opts.padding || 0,
      rich: opts.rich || {}
    }
  };
}
function subRich(size, shift, bold) {
  return {
    s: { fontSize: size, fontFamily: FONT, fontWeight: bold ? 'bold' : 'normal', fill: '#000', padding: [shift, 0, 0, 0] },
    u: { fontSize: size, fontFamily: FONT, fontWeight: bold ? 'bold' : 'normal', fill: '#000', padding: [0, 0, shift, 0] }
  };
}
const R90 = Math.PI / 2;
const titleRich = subRich(25, 22, false);

graphics.push(txt('W{s|dia} control by NB', 453, 174, 42, { align: 'left', bg: '#fff', padding: [0, 2, 0, 0], rich: subRich(30, 26, false) }));
graphics.push(txt('ctr-NB', 319, 352, 30, { align: 'left', bg: '#fff', padding: [3, 2, 3, 0] }));
// a short white gap in the frame above the q_min note
graphics.push({ type: 'rect', z: 55, shape: { x: 457, y: 383, width: 150, height: 20 }, style: { fill: '#fff' } });
graphics.push(txt('q{s|min}=4', 468, 411, 43, { align: 'left', bold: true, rich: subRich(30, 27, true) }));

graphics.push(txt('I{s|p} (MA)', 58, 94, 37, { rotation: R90, rich: titleRich }));
graphics.push(txt('V{s|loop} (V)', 1256, 102, 37, { rotation: R90, rich: titleRich }));
graphics.push(txt('β{s|N}', 54, 273, 37, { rotation: R90, rich: titleRich }));
graphics.push(txt('P{s|NB} (MW)', 1258, 285, 37, { rotation: R90, rich: titleRich }));
graphics.push(txt('q{s|min}', 54, 445, 37, { rotation: R90, rich: titleRich }));
graphics.push(txt('T{s|i} (keV)', 56, 598, 37, { rotation: R90, rich: titleRich }));
graphics.push(txt('T{s|e} (keV)', 1258, 596, 37, { rotation: R90, rich: titleRich }));
graphics.push(txt('n{s|e}', 32, 774, 37, { rotation: R90, rich: titleRich }));
graphics.push({ type: 'line', z: 60, shape: { x1: 13, y1: 767, x2: 13, y2: 792 }, style: { stroke: '#000', lineWidth: 2.5 } });
graphics.push(txt('(10{u|19} m{u|-3})', 77, 773, 36, { rotation: R90, rich: titleRich }));
graphics.push(txt('I{s|Dα} (a.u.)', 1260, 774, 37, { rotation: R90, rich: titleRich }));

// thin pale strip at the lower right edge
graphics.push({ type: 'rect', z: 1, shape: { x: 1274, y: 870, width: 6, height: 76 }, style: { fill: '#fbf6a8' } });

chart.setOption({ graphic: { elements: graphics } });
</script>
</body>
</html>
